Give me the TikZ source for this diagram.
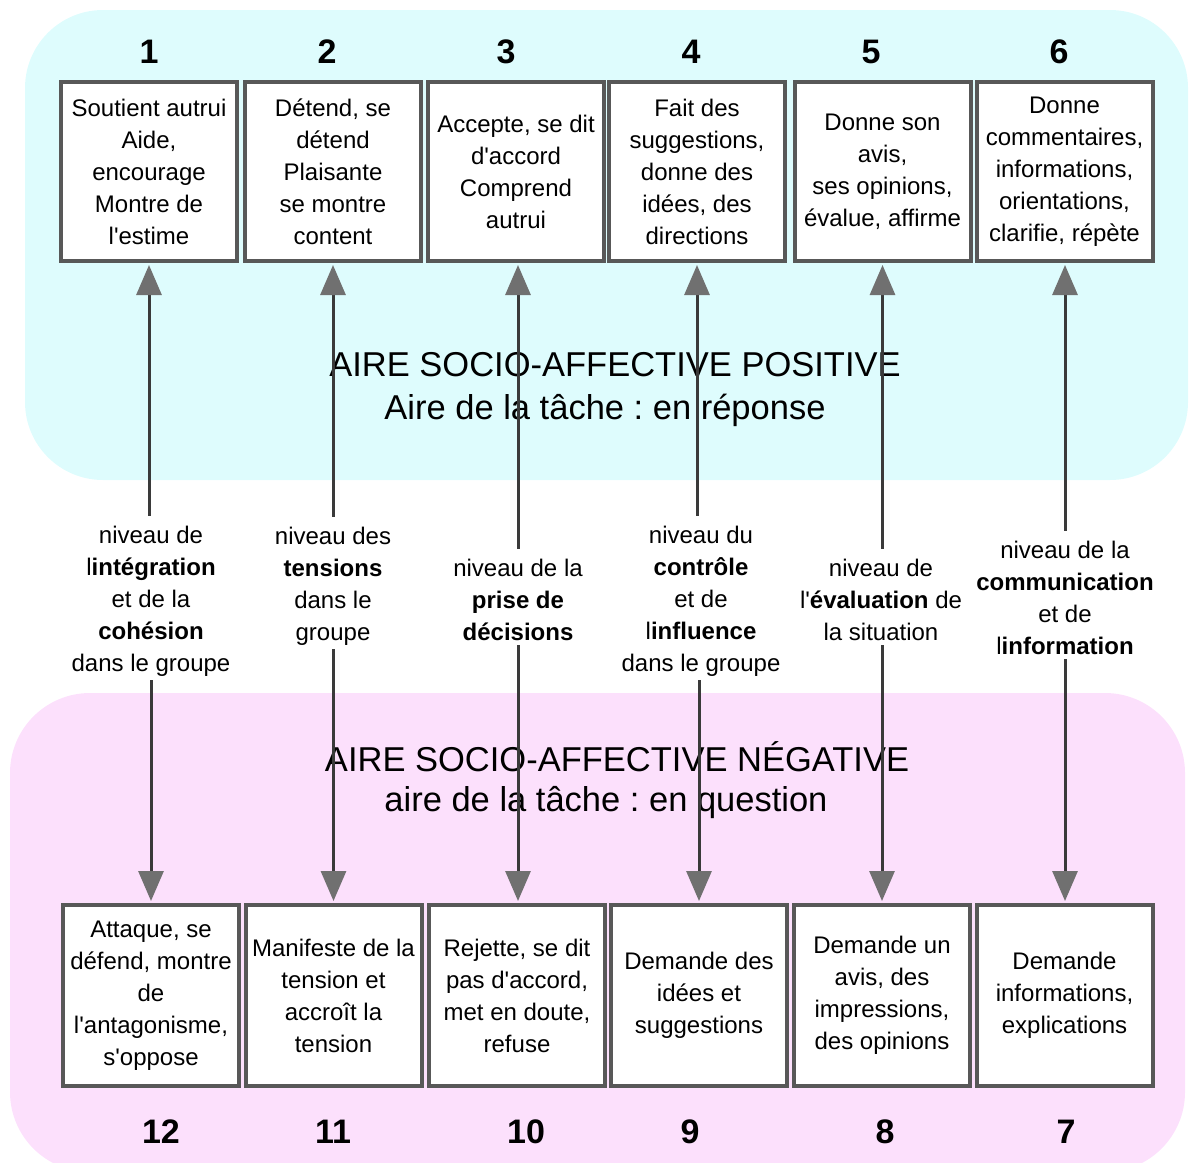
\documentclass[tikz,border=0pt]{standalone}
\usepackage{fontspec}
\newfontfamily\tah{Liberation Sans}
\usetikzlibrary{arrows.meta}
\definecolor{cyanbg}{RGB}{222,252,253}
\definecolor{pinkbg}{RGB}{252,224,252}
\definecolor{boxline}{RGB}{88,88,88}
\definecolor{headcol}{RGB}{112,112,112}
\definecolor{shaft}{RGB}{58,58,58}
\frenchspacing
\begin{document}
\begin{tikzpicture}[x=1pt,y=-1pt,
  txt/.style={font=\tah\fontsize{24}{32}\selectfont},
  boxtop/.style={txt, draw=boxline, line width=4pt, fill=white, minimum width=176pt, minimum height=179pt, align=center, inner sep=0pt},
  boxbot/.style={boxtop, minimum height=181pt},
  lab/.style={txt, align=center, inner sep=0pt},
  num/.style={font=\tah\bfseries\fontsize{34}{40}\selectfont, inner sep=0pt},
  title/.style={font=\tah\fontsize{34.5}{40}\selectfont, inner sep=0pt},
  conn/.style={draw=shaft, line width=3pt, shorten >=2pt, -{Triangle[length=30pt,width=25pt,fill=headcol,color=headcol]}}]
\useasboundingbox (0,0) rectangle (1190,1162);
\fill[cyanbg, rounded corners=78pt] (25,10) rectangle (1188,480);
\fill[pinkbg, rounded corners=80pt] (10,693) rectangle (1185,1172);
% titles
\node[title] (tp1) at (615,365) {AIRE SOCIO-AFFECTIVE POSITIVE};
\node[title] (tp2) at (605,410) {Aire de la tâche : en réponse};
\node[title] (tn1) at (617,757) {AIRE SOCIO-AFFECTIVE NÉGATIVE};
\node[title] (tn2) at (606,803) {aire de la tâche : en question};
% top boxes
\node[boxtop] (t1) at (149,171.5) {Soutient autrui\\Aide,\\encourage\\Montre de\\l'estime};
\node[boxtop] (t2) at (333,171.5) {Détend, se\\détend\\Plaisante\\se montre\\content};
\node[boxtop] (t3) at (516,171.5) {Accepte, se dit\\d'accord\\Comprend\\autrui};
\node[boxtop] (t4) at (697,171.5) {Fait des\\suggestions,\\donne des\\idées, des\\directions};
\node[boxtop] (t5) at (882.5,171.5) {Donne son\\avis,\\ses opinions,\\évalue, affirme};
\node[boxtop] (t6) at (1064.5,171.5) {Donne\\commentaires,\\informations,\\orientations,\\clarifie, répète};
% bottom boxes
\node[boxbot] (b12) at (151,995.5) {Attaque, se\\défend, montre\\de\\l'antagonisme,\\s'oppose};
\node[boxbot] (b11) at (333.5,995.5) {Manifeste de la\\tension et\\accroît la\\tension};
\node[boxbot] (b10) at (517,995.5) {Rejette, se dit\\pas d'accord,\\met en doute,\\refuse};
\node[boxbot] (b9) at (699,995.5) {Demande des\\idées et\\suggestions};
\node[boxbot] (b8) at (882,995.5) {Demande un\\avis, des\\impressions,\\des opinions};
\node[boxbot] (b7) at (1064.5,995.5) {Demande\\informations,\\explications};
% numbers
\node[num] (n1) at (149,52) {1};
\node[num] (n2) at (327,52) {2};
\node[num] (n3) at (506,52) {3};
\node[num] (n4) at (691,52) {4};
\node[num] (n5) at (871,52) {5};
\node[num] (n6) at (1059,52) {6};
\node[num] (n12) at (161,1132) {12};
\node[num] (n11) at (333,1132) {11};
\node[num] (n10) at (526,1132) {10};
\node[num] (n9) at (690,1132) {9};
\node[num] (n8) at (885,1132) {8};
\node[num] (n7) at (1066,1132) {7};
% level labels
\node[lab] (l1) at (151,601) {niveau de\\l\textbf{intégration}\\et de la\\\textbf{cohésion}\\dans le groupe};
\node[lab] (l2) at (333,586) {niveau des\\\textbf{tensions}\\dans le\\groupe};
\node[lab] (l3) at (518,600) {niveau de la\\\textbf{prise de}\\\textbf{décisions}};
\node[lab] (l4) at (701,601) {niveau du\\\textbf{contrôle}\\et de\\l\textbf{influence}\\dans le groupe};
\node[lab] (l5) at (881,600) {niveau de\\l'\textbf{évaluation} de\\la situation};
\node[lab] (l6) at (1065,598) {niveau de la\\\textbf{communication}\\et de\\l\textbf{information}};
% connectors
\draw[conn, shorten <=10pt] (l1.north -| t1.south) -- (t1.south);
\draw[conn, shorten <=10pt] (l2.north -| t2.south) -- (t2.south);
\draw[conn, shorten <=10pt] (l3.north) -- (l3.north |- t3.south);
\draw[conn, shorten <=10pt] (l4.north -| t4.south) -- (t4.south);
\draw[conn, shorten <=10pt] (l5.north -| t5.south) -- (t5.south);
\draw[conn, shorten <=10pt] (l6.north) -- (l6.north |- t6.south);
\draw[conn, shorten <=4pt] (l1.south -| b12.north) -- (b12.north);
\draw[conn, shorten <=4pt] (l2.south -| b11.north) -- (b11.north);
\draw[conn, shorten <=4pt] (l3.south) -- (l3.south |- b10.north);
\draw[conn, shorten <=4pt] (l4.south -| b9.north) -- (b9.north);
\draw[conn, shorten <=4pt] (l5.south -| b8.north) -- (b8.north);
\draw[conn, shorten <=4pt] (l6.south) -- (l6.south |- b7.north);
\end{tikzpicture}
\end{document}
